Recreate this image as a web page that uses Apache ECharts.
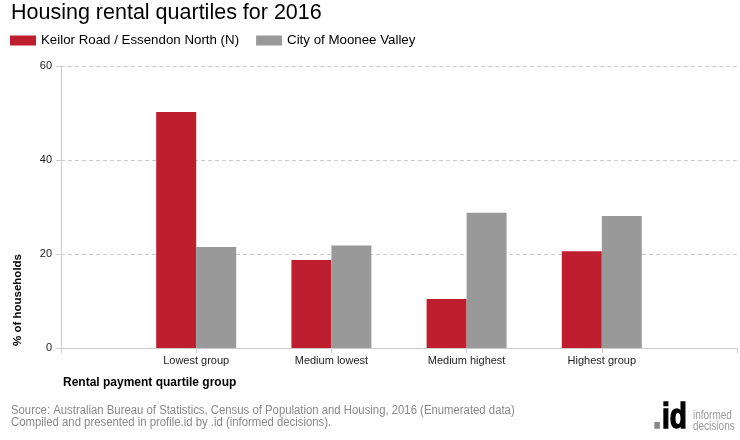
<!DOCTYPE html>
<html>
<head>
<meta charset="utf-8">
<script src="https://cdn.jsdelivr.net/npm/echarts@6/dist/echarts.min.js"></script>
<style>
html,body{margin:0;padding:0;background:#fff;}
#chart{width:740px;height:440px;}
</style>
</head>
<body>
<div id="chart"></div>
<script>
// Categories (blank padding slots at both ends keep the original spacing)
var categories = ['', 'Lowest group', 'Medium lowest', 'Medium highest', 'Highest group', ''];
var seriesNames = ['Keilor Road / Essendon North (N)', 'City of Moonee Valley'];
var keilorValues = ['-', 50.2, 18.7, 10.4, 20.6, '-'];
var mooneeValues = ['-', 21.5, 21.8, 28.8, 28.1, '-'];
var yTicks = { min: 0, max: 60, interval: 20 };

var FONT = '"Liberation Sans", Arial, sans-serif';
var chart = echarts.init(document.getElementById('chart'), null, { renderer: 'canvas' });

chart.setOption({
  animation: false,
  backgroundColor: '#ffffff',
  textStyle: { fontFamily: FONT },
  legend: {
    left: 10, top: 34, padding: 0,
    itemWidth: 26, itemHeight: 10, itemGap: 17,
    icon: 'rect',
    textStyle: { fontFamily: FONT, fontSize: 13.3, color: '#000' },
    data: seriesNames
  },
  grid: { left: 61, right: 2, top: 66, bottom: 92 },
  xAxis: {
    type: 'category',
    data: categories,
    boundaryGap: false,
    axisLine: { show: true, lineStyle: { color: '#cccccc', width: 1 } },
    axisTick: { show: true, length: 5, lineStyle: { color: '#cccccc' } },
    axisLabel: { fontFamily: FONT, fontSize: 11, color: '#222', margin: 7, interval: 0 },
    splitLine: { show: false }
  },
  yAxis: {
    type: 'value',
    min: yTicks.min, max: yTicks.max, interval: yTicks.interval,
    axisLine: { show: true, lineStyle: { color: '#cccccc', width: 1 } },
    axisTick: { show: true, length: 5, lineStyle: { color: '#cccccc' } },
    axisLabel: { fontFamily: FONT, fontSize: 11, color: '#222', margin: 9 },
    splitLine: { show: true, lineStyle: { color: '#cccccc', type: [4, 3], width: 1 } }
  },
  series: [
    {
      name: seriesNames[0], type: 'bar', data: keilorValues,
      barWidth: 40, barGap: '0%',
      itemStyle: { color: '#BE1E2D' }
    },
    {
      name: seriesNames[1], type: 'bar', data: mooneeValues,
      barWidth: 40, barGap: '0%',
      itemStyle: { color: '#999999' }
    }
  ],
  graphic: [
    {
      type: 'text', x: 11, y: 13,
      style: { text: 'Housing rental quartiles for 2016', fontFamily: FONT, fontSize: 21.5, fill: '#000', textAlign: 'left', textVerticalAlign: 'middle' }
    },
    {
      type: 'text', x: 18, y: 346, rotation: Math.PI / 2,
      style: { text: '% of households', fontFamily: FONT, fontSize: 11.5, fontWeight: 'bold', fill: '#000', textAlign: 'left', textVerticalAlign: 'middle' }
    },
    {
      type: 'text', x: 63, y: 383,
      style: { text: 'Rental payment quartile group', fontFamily: FONT, fontSize: 12, fontWeight: 'bold', fill: '#000', textAlign: 'left', textVerticalAlign: 'middle' }
    },
    {
      type: 'text', x: 11, y: 410.5, scaleX: 0.945,
      style: { text: 'Source: Australian Bureau of Statistics, Census of Population and Housing, 2016 (Enumerated data)', fontFamily: FONT, fontSize: 12, fill: '#888', textAlign: 'left', textVerticalAlign: 'middle' }
    },
    {
      type: 'text', x: 11, y: 422.5, scaleX: 0.945,
      style: { text: 'Compiled and presented in profile.id by .id (informed decisions).', fontFamily: FONT, fontSize: 12, fill: '#888', textAlign: 'left', textVerticalAlign: 'middle' }
    },
    {
      type: 'text', x: 653, y: 418.5, scaleX: 0.85,
      style: { text: '.', fontFamily: FONT, fontSize: 35, fontWeight: 'bold', fill: '#888', stroke: '#888', lineWidth: 1.5, textAlign: 'left', textVerticalAlign: 'middle' }
    },
    {
      type: 'text', x: 662, y: 418.5, scaleX: 0.8,
      style: { text: 'id', fontFamily: FONT, fontSize: 35, fontWeight: 'bold', fill: '#000', stroke: '#000', lineWidth: 1.5, textAlign: 'left', textVerticalAlign: 'middle' }
    },
    {
      type: 'text', x: 693, y: 415.5, scaleX: 0.8,
      style: { text: 'informed', fontFamily: FONT, fontSize: 12.5, fill: '#999', textAlign: 'left', textVerticalAlign: 'middle' }
    },
    {
      type: 'text', x: 693, y: 426.5, scaleX: 0.8,
      style: { text: 'decisions', fontFamily: FONT, fontSize: 12.5, fill: '#999', textAlign: 'left', textVerticalAlign: 'middle' }
    }
  ]
});
</script>
</body>
</html>
